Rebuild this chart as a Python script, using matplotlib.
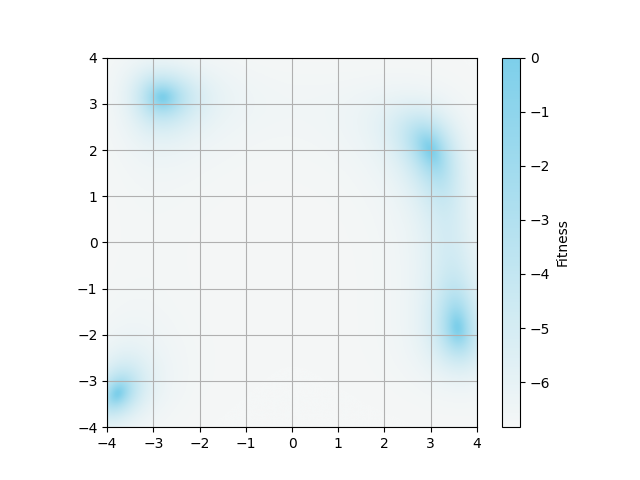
import numpy as np
import matplotlib
matplotlib.use("Agg")
import matplotlib.pyplot as plt
from matplotlib.colors import LinearSegmentedColormap

# Himmelblau landscape parameters
x_range = [-4, 4]
y_range = [-4, 4]
n_grid = 401
const_a = 11
const_b = 7
power = 1.9
epsilon = 1.06e-3
cmap_colors = ["#f5f7f7", "#7dcfea"]

xs = np.linspace(x_range[0], x_range[1], n_grid)
ys = np.linspace(y_range[0], y_range[1], n_grid)
X, Y = np.meshgrid(xs, ys)
F = (X**2 + Y - const_a)**2 + (X + Y**2 - const_b)**2
fitness = np.log((1.0 + F) ** (-power) + epsilon)
fitness = fitness - fitness.max()

cmap = LinearSegmentedColormap.from_list("fit", cmap_colors)

fig, ax = plt.subplots(figsize=(6.4, 4.8), dpi=100)
im = ax.imshow(fitness, origin="lower", extent=[x_range[0], x_range[1], y_range[0], y_range[1]],
               cmap=cmap, interpolation="bilinear")
ax.grid(True)
cb = fig.colorbar(im, ax=ax)
cb.set_label("Fitness")
fig.savefig("out.png", dpi=100)
